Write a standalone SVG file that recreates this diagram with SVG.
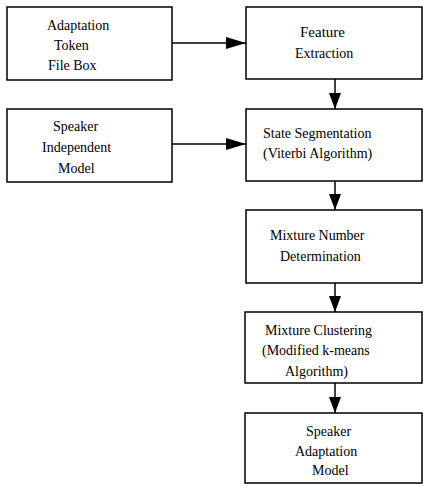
<svg xmlns="http://www.w3.org/2000/svg" width="423" height="486" viewBox="0 0 423 486">
<defs>
<style>
.box{fill:#fff;stroke:#000;stroke-width:1.5}
.t{font-family:"Liberation Serif","Times New Roman",serif;font-size:14px;fill:#000}
.c{stroke:#000;stroke-width:1.5;fill:none}
</style>
<marker id="ah" markerWidth="20" markerHeight="12" refX="20" refY="6" orient="auto" markerUnits="userSpaceOnUse">
<path d="M0,0 L20,6 L0,12 Z" fill="#000"/>
</marker>
<marker id="av" markerWidth="16" markerHeight="12" refX="16" refY="6" orient="auto" markerUnits="userSpaceOnUse">
<path d="M0,0 L16,6 L0,12 Z" fill="#000"/>
</marker>
</defs>
<rect width="423" height="486" fill="#fff"/>
<g id="n1"><rect class="box" x="7" y="7" width="165" height="73"/>
<text class="t" x="47" y="30">Adaptation</text><text class="t" x="54" y="50">Token</text><text class="t" x="48" y="70">File Box</text></g>
<g id="n2"><rect class="box" x="246" y="7" width="176" height="72"/>
<text class="t" x="300" y="37" style="font-size:15px">Feature</text><text class="t" x="295" y="58">Extraction</text></g>
<g id="n3"><rect class="box" x="7" y="109" width="165" height="73"/>
<text class="t" x="53" y="131">Speaker</text><text class="t" x="42" y="152">Independent</text><text class="t" x="58" y="173">Model</text></g>
<g id="n4"><rect class="box" x="246" y="109" width="176" height="72"/>
<text class="t" x="263" y="138">State Segmentation</text><text class="t" x="263" y="158">(Viterbi Algorithm)</text></g>
<g id="n5"><rect class="box" x="246" y="210" width="176" height="73"/>
<text class="t" x="270" y="240">Mixture Number</text><text class="t" x="280" y="261">Determination</text></g>
<g id="n6"><rect class="box" x="245" y="312" width="177" height="71"/>
<text class="t" x="265" y="335">Mixture Clustering</text><text class="t" x="262" y="355">(Modified k-means</text><text class="t" x="285" y="376">Algorithm)</text></g>
<g id="n7"><rect class="box" x="245" y="413" width="177" height="70"/>
<text class="t" x="306" y="436">Speaker</text><text class="t" x="295" y="456">Adaptation</text><text class="t" x="312" y="475">Model</text></g>
<g id="connectors">
<line class="c" x1="172" y1="43" x2="246" y2="43" marker-end="url(#ah)"/>
<line class="c" x1="172" y1="144" x2="246" y2="144" marker-end="url(#ah)"/>
<line class="c" x1="335" y1="79" x2="335" y2="109" marker-end="url(#av)"/>
<line class="c" x1="335" y1="181" x2="335" y2="210" marker-end="url(#av)"/>
<line class="c" x1="335" y1="283" x2="335" y2="312" marker-end="url(#av)"/>
<line class="c" x1="335" y1="383" x2="335" y2="413" marker-end="url(#av)"/>
</g>
</svg>
